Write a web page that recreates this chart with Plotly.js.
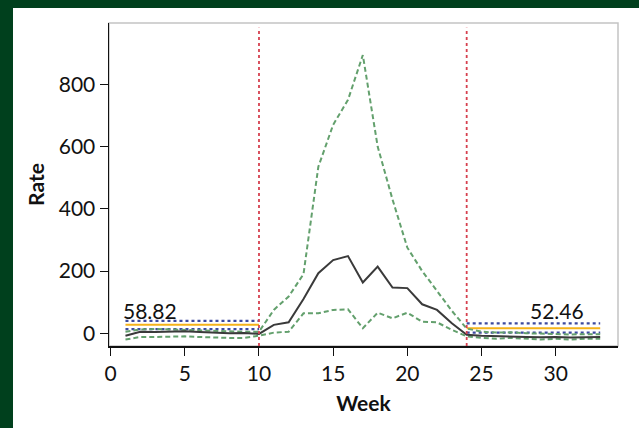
<!DOCTYPE html>
<html>
<head>
<meta charset="utf-8">
<script src="https://cdn.plot.ly/plotly-3.0.1.min.js"></script>
<style>
  html, body { margin: 0; padding: 0; background: #00401d; width: 639px; height: 428px; overflow: hidden; }
  #chart { position: absolute; left: 13px; top: 8px; width: 626px; height: 420px; background: #ffffff; }
</style>
</head>
<body>
<div id="chart"></div>
<script>
const weeks = [1,2,3,4,5,6,7,8,9,10,11,12,13,14,15,16,17,18,19,20,21,22,23,24,25,26,27,28,29,30,31,32,33];
const rate  = [-8,5,4,6,6,4,2,0,1,-2,27,35,110,193,235,248,163,214,147,145,93,75,32,-5,-8,-10,-10,-12,-13,-12,-14,-12,-12];
const upper = [5,12,14,12,10,10,8,6,5,5,75,118,190,535,670,750,894,600,430,275,200,135,72,15,5,2,3,0,-2,-2,-4,-3,-3];
const lower = [-20,-12,-12,-10,-10,-12,-14,-15,-15,-8,2,5,64,64,75,77,16,66,48,66,37,35,11,-10,-15,-18,-15,-18,-20,-18,-20,-18,-18];

const periodStart = [1, 24];
const periodEnd   = [10, 33];
const periodMean  = [27, 16];
const periodUpper = [40, 32];
const periodLower = [13, 2];
const periodLabel = ["58.82", "52.46"];
const breakWeeks  = [10, 24];

const traces = [];
for (let i = 0; i < periodStart.length; i++) {
  const xs = [periodStart[i], periodEnd[i]];
  traces.push({x: xs, y: [periodUpper[i], periodUpper[i]], mode: 'lines', line: {color: '#3c4a9e', width: 2.2, dash: 'dot'}, hoverinfo: 'skip'});
  traces.push({x: xs, y: [periodLower[i], periodLower[i]], mode: 'lines', line: {color: '#3c4a9e', width: 2.2, dash: 'dot'}, hoverinfo: 'skip'});
  traces.push({x: xs, y: [periodMean[i], periodMean[i]], mode: 'lines', line: {color: '#f5b31a', width: 2}, hoverinfo: 'skip'});
}
traces.push({x: weeks, y: upper, mode: 'lines', line: {color: '#63a06d', width: 2, dash: '5px,3px'}});
traces.push({x: weeks, y: lower, mode: 'lines', line: {color: '#63a06d', width: 2, dash: '5px,3px'}});
traces.push({x: weeks, y: rate, mode: 'lines', line: {color: '#3a3a3a', width: 2}});

const shapes = [{type: 'rect', xref: 'paper', yref: 'paper', x0: 0, x1: 1, y0: 0, y1: 1, line: {color: '#c4c4c4', width: 1.5}, layer: 'below'}];
breakWeeks.forEach(w => shapes.push({type: 'line', xref: 'x', yref: 'paper', x0: w, x1: w, y0: 0, y1: 0.985, line: {color: '#d6404f', width: 1.8, dash: 'dot'}}));

const FAM = 'Lato, sans-serif';
const annotations = periodLabel.map((t, i) => ({
  x: [2.65, 30.1][i], y: 72, xref: 'x', yref: 'y', text: t, showarrow: false,
  font: {family: FAM, size: 21, color: '#111'}
}));

const font = {family: FAM, size: 21, color: '#111'};
const tfont = {family: FAM, size: 21, color: '#111'};
const layout = {
  width: 626, height: 420,
  margin: {l: 96, r: 21, t: 15, b: 82},
  paper_bgcolor: '#ffffff', plot_bgcolor: '#ffffff',
  showlegend: false,
  font: font,
  xaxis: {
    range: [-0.11, 34.2], tickvals: [0,5,10,15,20,25,30], ticks: 'outside', ticklen: 8, tickcolor: '#111',
    showline: true, linecolor: '#111', linewidth: 1.5, showgrid: false, zeroline: false,
    title: {text: '<b>Week</b>', font: tfont, standoff: 12},
    tickfont: font
  },
  yaxis: {
    range: [-41, 997], tickvals: [0,200,400,600,800], ticks: 'outside', ticklen: 8, tickcolor: '#111',
    showline: true, linecolor: '#111', linewidth: 1.5, showgrid: false, zeroline: false,
    title: {text: '<b>Rate</b>', font: tfont, standoff: 8},
    tickfont: font
  },
  shapes: shapes,
  annotations: annotations
};
Plotly.newPlot('chart', traces, layout, {displayModeBar: false, staticPlot: true});
</script>
</body>
</html>
